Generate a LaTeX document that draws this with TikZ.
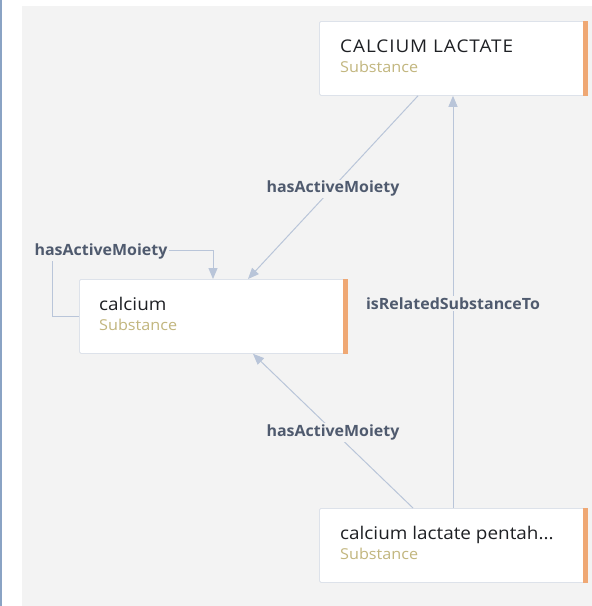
\documentclass[tikz,border=0pt]{standalone}
\usepackage{fontspec}
\setmainfont{Open Sans}
\newfontfamily\entityfont[FakeStretch=1.08]{Open Sans}
\newfontfamily\relationfont[FakeStretch=1.03]{Open Sans}
\usetikzlibrary{arrows.meta,calc}
\definecolor{canvasbg}{HTML}{F3F3F3}
\definecolor{framebar}{HTML}{8AA3C4}
\definecolor{boxline}{HTML}{DDE2EA}
\definecolor{accent}{HTML}{EFA874}
\definecolor{titletext}{HTML}{1E2024}
\definecolor{typetext}{HTML}{C2B67E}
\definecolor{edgeline}{HTML}{B9C5D9}
\definecolor{edgetext}{HTML}{4F5A6E}
\tikzset{
  entity/.style={draw=boxline, line width=0.8pt, fill=white, rounded corners=1.5pt,
    minimum width=268pt, minimum height=74pt, anchor=north west, inner sep=0pt},
  entitytitle/.style={anchor=base west, inner sep=0pt, text=titletext, font=\entityfont\fontsize{17.5}{20}\selectfont},
  entitytype/.style={anchor=base west, inner sep=0pt, text=typetext, font=\entityfont\fontsize{15}{17}\selectfont},
  relation/.style={draw=edgeline, line width=1pt, -{Triangle[length=11pt,width=9pt]}},
  relationlabel/.style={fill=canvasbg, inner sep=1.5pt, yshift=-1.5pt, text=edgetext, font=\relationfont\bfseries\fontsize{15.5}{18}\selectfont},
}
\begin{document}
\begin{tikzpicture}[x=1pt,y=-1pt]
  % canvas
  \useasboundingbox (0,0) rectangle (592,606);
  \fill[canvasbg] (22,6) rectangle (592,606);
  \fill[framebar] (0,0) rectangle (1.5,606);

  % entities
  \node[entity] (lactate) at (319,21) {};
  \node[entity] (calcium) at (79,279) {};
  \node[entity] (penta) at (319,508) {};
  \foreach \n in {lactate,calcium,penta}{
    \fill[accent] ($(\n.north east)+(-5,0)$) rectangle (\n.south east);
  }

  \node[entitytitle] (lactateName) at ($(lactate.north west)+(21,31.5)$) {\addfontfeature{LetterSpace=5.5}CALCIUM LACTATE};
  \node[entitytype] (lactateType) at ($(lactate.north west)+(21,51.5)$) {Substance};
  \node[entitytitle] (calciumName) at ($(calcium.north west)+(20,31)$) {calcium};
  \node[entitytype] (calciumType) at ($(calcium.north west)+(20,51)$) {Substance};
  \node[entitytitle] (pentaName) at ($(penta.north west)+(21,31)$) {calcium lactate pentah...};
  \node[entitytype] (pentaType) at ($(penta.north west)+(21,51)$) {Substance};

  % relations
  \coordinate (e1s) at ($(lactate.south west)+(99,0)$);
  \coordinate (e1t) at ($(calcium.north west)+(169,0)$);
  \draw[relation] (e1s) -- (e1t);
  \node[relationlabel] (l1) at ($(e1s)!0.5!(e1t)$) {hasActiveMoiety};

  \coordinate (e2s) at ($(penta.north west)+(94,0)$);
  \coordinate (e2t) at ($(calcium.south west)+(174,0)$);
  \draw[relation] (e2s) -- (e2t);
  \node[relationlabel] (l2) at ($(e2s)!0.5!(e2t)$) {hasActiveMoiety};

  \coordinate (e3s) at ($(penta.north west)+(134,0)$);
  \coordinate (e3t) at ($(lactate.south west)+(134,0)$);
  \draw[relation] (e3s) -- (e3t);
  \node[relationlabel] (l3) at ($(e3s)!0.5!(e3t)$) {isRelatedSubstanceTo};

  \coordinate (e4s) at ($(calcium.north west)+(0,37)$);
  \coordinate (e4t) at ($(calcium.north west)+(134,0)$);
  \draw[relation] (e4s) -- ++(-27,0) |- ($(e4t)+(0,-29)$) -- (e4t);
  \node[relationlabel] (l4) at (101,250) {hasActiveMoiety};
\end{tikzpicture}
\end{document}
